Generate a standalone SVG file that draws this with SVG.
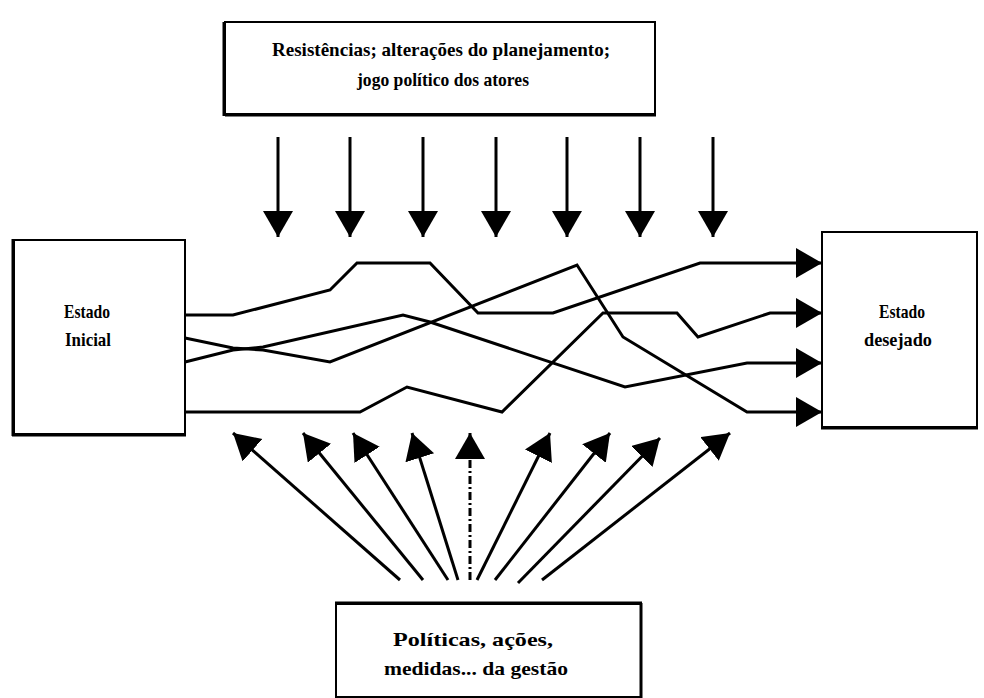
<svg xmlns="http://www.w3.org/2000/svg" width="984" height="698" viewBox="0 0 984 698">
<style>
.box{fill:#fff;stroke:#000;stroke-width:2}
.edge{stroke:#000;stroke-width:3}
.t{font-family:"Liberation Serif","Times New Roman",serif;font-weight:bold;font-size:19px;fill:#000;text-anchor:middle}
.path{fill:none;stroke:#000;stroke-width:3;stroke-linejoin:miter}
.arr{fill:none;stroke:#000;stroke-width:3}
</style>
<defs>
<marker id="ah" markerUnits="userSpaceOnUse" markerWidth="28" markerHeight="32" refX="26" refY="15" orient="auto" viewBox="0 0 28 32">
<path d="M0,0 L26,15 L0,30 Z" fill="#000"/>
</marker>
</defs>
<rect width="984" height="698" fill="#fff"/>

<g id="top-box">
<rect class="box" x="225" y="22" width="430" height="92"/>
<line class="edge" x1="225" y1="115" x2="656" y2="115"/>
<line class="edge" x1="224" y1="22" x2="224" y2="116"/>
<text class="t" x="441" y="56" textLength="338" lengthAdjust="spacingAndGlyphs">Resistências; alterações do planejamento;</text>
<text class="t" x="443" y="86" textLength="172" lengthAdjust="spacingAndGlyphs">jogo político dos atores</text>
</g>

<g id="initial">
<rect class="box" x="14" y="240" width="171" height="194"/>
<line class="edge" x1="13" y1="239" x2="13" y2="436"/>
<line class="edge" x1="12" y1="435" x2="186" y2="435"/>
<text class="t" x="87" y="318" textLength="46" lengthAdjust="spacingAndGlyphs">Estado</text>
<text class="t" x="88" y="346" textLength="46" lengthAdjust="spacingAndGlyphs">Inicial</text>
</g>

<g id="desired">
<rect class="box" x="822" y="232" width="155" height="195"/>
<line class="edge" x1="821" y1="428" x2="978" y2="428"/>
<text class="t" x="902" y="318" textLength="46" lengthAdjust="spacingAndGlyphs">Estado</text>
<text class="t" x="898" y="346" textLength="68" lengthAdjust="spacingAndGlyphs">desejado</text>
</g>

<g id="bottom-box">
<rect class="box" x="336" y="604" width="305" height="93"/>
<line class="edge" x1="335" y1="603" x2="642" y2="603"/>
<line class="edge" x1="641" y1="603" x2="641" y2="698"/>
<text class="t" x="473" y="646" textLength="160" lengthAdjust="spacingAndGlyphs">Políticas, ações,</text>
<text class="t" x="476" y="675" textLength="184" lengthAdjust="spacingAndGlyphs">medidas... da gestão</text>
</g>

<g id="connectors">
<g id="down-arrows">
<line class="arr" x1="278" y1="137" x2="278" y2="237" marker-end="url(#ah)"/>
<line class="arr" x1="350" y1="137" x2="350" y2="237" marker-end="url(#ah)" stroke-width="2"/>
<line class="arr" x1="423" y1="137" x2="423" y2="237" marker-end="url(#ah)" stroke-width="2"/>
<line class="arr" x1="496" y1="137" x2="496" y2="237" marker-end="url(#ah)"/>
<line class="arr" x1="567" y1="137" x2="567" y2="237" marker-end="url(#ah)"/>
<line class="arr" x1="640" y1="137" x2="640" y2="237" marker-end="url(#ah)" stroke-width="2"/>
<line class="arr" x1="713" y1="137" x2="713" y2="237" marker-end="url(#ah)" stroke-width="2"/>
</g>
<g id="trajectories">
<polyline class="path" points="185,315 233,315 330,290 357,263 430,263 478,313 553,313 700,263 822,263" marker-end="url(#ah)"/>
<polyline class="path" points="185,338 233,348 263,350 330,362 577,265 623,337 747,412 822,412" marker-end="url(#ah)"/>
<polyline class="path" points="185,362 233,350 263,347 403,315 430,322 625,387 747,363 822,363" marker-end="url(#ah)"/>
<polyline class="path" points="185,412 360,412 407,387 502,412 603,313 677,313 698,337 770,313 822,313" marker-end="url(#ah)"/>
</g>
<g id="fan-arrows">
<line class="arr" x1="400" y1="580" x2="233" y2="433" marker-end="url(#ah)"/>
<line class="arr" x1="423" y1="580" x2="303" y2="433" marker-end="url(#ah)"/>
<line class="arr" x1="448" y1="580" x2="353" y2="433" marker-end="url(#ah)"/>
<line class="arr" x1="458" y1="580" x2="412" y2="433" marker-end="url(#ah)"/>
<line class="arr" x1="470" y1="580" x2="470" y2="433" marker-end="url(#ah)" stroke-dasharray="8,3,2,3"/>
<line class="arr" x1="477" y1="580" x2="550" y2="433" marker-end="url(#ah)"/>
<line class="arr" x1="495" y1="580" x2="610" y2="433" marker-end="url(#ah)"/>
<line class="arr" x1="518" y1="583" x2="660" y2="438" marker-end="url(#ah)"/>
<line class="arr" x1="542" y1="580" x2="730" y2="433" marker-end="url(#ah)"/>
</g>
</g>
</svg>
